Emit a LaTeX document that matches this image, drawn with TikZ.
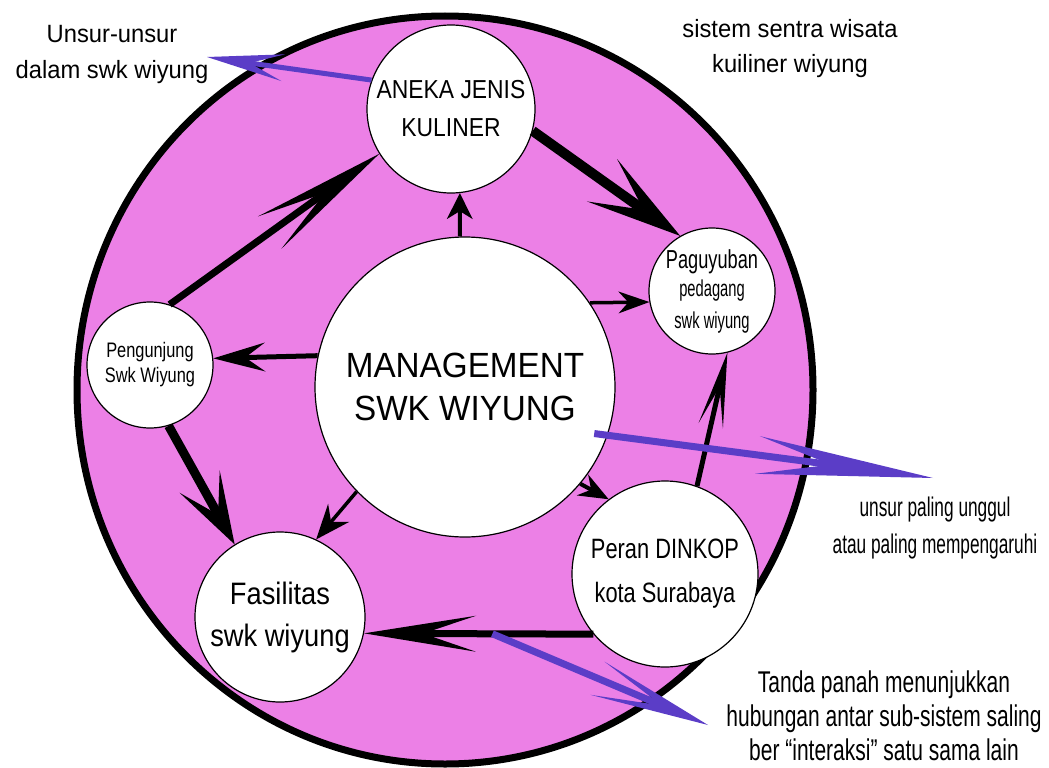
\documentclass[tikz,border=0pt]{standalone}
\usepackage{fontspec}
\setmainfont{Liberation Sans}
\newfontfamily\fontW[FakeStretch=0.95]{Liberation Sans}
\newfontfamily\fontA[FakeStretch=0.88]{Liberation Sans}
\newfontfamily\fontM[FakeStretch=0.78]{Liberation Sans}
\newfontfamily\fontC[FakeStretch=0.70]{Liberation Sans}
\newfontfamily\fontN[FakeStretch=0.64]{Liberation Sans}
\usetikzlibrary{arrows.meta,calc}
\definecolor{ringpink}{RGB}{236,128,230}
\definecolor{notblue}{RGB}{91,61,199}

\begin{document}
\begin{tikzpicture}[x=1pt,y=-1pt,
	sub/.style={circle,draw=black,line width=1.2pt,fill=white,inner sep=0pt,align=center},
	note/.style={align=center,inner sep=0pt},
	arr/.style n args={4}{draw=black,line width=#1,-{Stealth[length=#2,width=#3,inset=#4,line width=0pt]}},
	blu/.style n args={4}{draw=notblue,line width=#1,-{Stealth[length=#2,width=#3,inset=#4,line width=0pt]}}]
				  \useasboundingbox (0,0) rectangle (1049,768);
				  %SISTEM
				  \draw[fill=ringpink,line width=7pt] (445,390) ellipse [x radius=368, y radius=374];
				  %SUB-SISTEM
				  \node[sub,minimum size=300pt,font=\fontW\fontsize{35}{43}\selectfont] (mg) at (465,387) {MANAGEMENT\\SWK WIYUNG};
				  \node[sub,minimum size=168pt,font=\fontA\fontsize{26}{38}\selectfont] (an) at (451,109) {ANEKA JENIS\\KULINER};
				  \node[sub,minimum size=126pt,font=\fontN\fontsize{23}{28}\selectfont] (pg) at (712,291) {{\fontC\fontsize{26}{28}\selectfont Paguyuban}\\pedagang\\[4pt]swk wiyung};
				  \node[sub,minimum size=126pt,font=\fontM\fontsize{21}{25}\selectfont] (pj) at (150,365) {Pengunjung\\Swk Wiyung};
				  \node[sub,minimum size=170pt,font=\fontA\fontsize{31}{42}\selectfont] (fa) at (280,617) {Fasilitas\\swk wiyung};
				  \node[sub,minimum size=186pt,font=\fontM\fontsize{28}{44}\selectfont] (pe) at (665,574) {Peran DINKOP\\kota Surabaya};
				  %KETERANGAN
				  \node[note,font=\fontW\fontsize{25}{36}\selectfont] (unsur) at (112,54) {Unsur-unsur\\dalam swk wiyung};
				  \node[note,font=\fontW\fontsize{25}{35}\selectfont] (judul) at (790,49) {sistem sentra wisata\\kuiliner wiyung};
				  \node[note,font=\fontN\fontsize{27}{37}\selectfont] (unggul) at (935,528) {unsur paling unggul\\atau paling mempengaruhi};
				  \node[note,font=\fontC\fontsize{30}{34}\selectfont] (tanda) at (884,716) {Tanda panah menunjukkan\\hubungan antar sub-sistem saling\\ber “interaksi” satu sama lain};
				  %PANAH TIPIS
				  \draw[arr={4pt}{26pt}{26pt}{8pt}] (mg.92) -- (an.-84);
				  \draw[arr={3.5pt}{31pt}{22pt}{10pt}] (mg.34.5) -- (pg.190);
				  \draw[arr={5pt}{52pt}{29pt}{20pt}] (mg.168.9) -- (pj.6.4);
				  \draw[arr={3.5pt}{35pt}{28pt}{12pt}] (mg.224.5) -- (fa.65.7);
				  \draw[arr={4pt}{30pt}{24pt}{10pt}] (mg.-40) -- (pe.127);
				  %PANAH TEBAL
				  \draw[arr={10pt}{96pt}{52pt}{51pt}] (an.-15) -- (pg.120);
				  \draw[arr={7pt}{135pt}{40pt}{68pt}] (pj.72) -- (an.212);
				  \draw[arr={9pt}{72pt}{46pt}{38pt}] (pj.-73) -- (fa.122);
				  \draw[arr={7pt}{112pt}{36pt}{53pt}] (pe.220) -- coordinate[pos=0.44] (m) (fa.-11.5);
				  \draw[arr={5pt}{75pt}{25pt}{40pt}] (pe.70) -- (pg.-76.8);
				  %PANAH BIRU
				  \coordinate (uTip) at (207,57);
				  \coordinate (bTip) at (933,478);
				  \coordinate (cTip) at (708,725);
				  \draw[blu={5pt}{77pt}{27pt}{34pt}] (an.160) -- (uTip);
				  \draw[blu={7pt}{177pt}{38pt}{74pt}] ([xshift=-14pt]mg.-18) -- (bTip);
				  \draw[blu={7pt}{120pt}{36pt}{70pt}] (m) -- (cTip);
\end{tikzpicture}
\end{document}
